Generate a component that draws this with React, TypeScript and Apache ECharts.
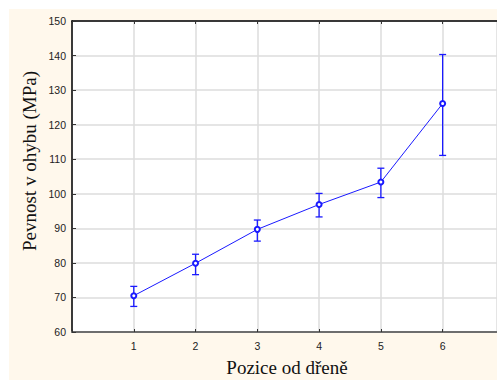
import React, { useEffect, useRef } from "react";
import * as echarts from "echarts";

const categories = [1, 2, 3, 4, 5, 6];
const means = [70.5, 79.9, 89.7, 96.9, 103.4, 126.1];
const upper = [73.2, 82.5, 92.4, 100.1, 107.4, 140.3];
const lower = [67.4, 76.6, 86.3, 93.3, 98.9, 111.1];
const yTicks = [60, 70, 80, 90, 100, 110, 120, 130, 140, 150];
const xTitle = "Pozice od dřeně";
const yTitle = "Pevnost v ohybu (MPa)";

const BLUE = "#1a1aff";
const SERIF = "'Liberation Serif', 'Times New Roman', serif";
const SANS = "'Liberation Sans', Arial, sans-serif";

export default function App() {
  const ref = useRef<HTMLDivElement>(null);
  useEffect(() => {
    const chart = echarts.init(ref.current!, null, { renderer: "svg" });
    const lineData = categories.map((c, i) => [c, means[i]]);
    const errData = categories.map((c, i) => [c, lower[i], upper[i]]);
    chart.setOption({
      animation: false,
      backgroundColor: "#ffffff",
      graphic: [
        {
          type: "rect",
          z: -10,
          silent: true,
          shape: { x: 9, y: 9, width: 497, height: 380 },
          style: { fill: "#fff8ec" },
        },
        {
          type: "text",
          x: 287,
          y: 367,
          silent: true,
          style: {
            text: xTitle,
            fontFamily: SERIF,
            fontSize: 19,
            fill: "#111",
            align: "center",
            verticalAlign: "middle",
          },
        },
        {
          type: "text",
          x: 29,
          y: 161,
          rotation: Math.PI / 2,
          silent: true,
          style: {
            text: yTitle,
            fontFamily: SERIF,
            fontSize: 19,
            fill: "#111",
            align: "center",
            verticalAlign: "middle",
          },
        },
      ],
      grid: {
        left: 72,
        top: 21,
        right: 0,
        bottom: 48,
        show: true,
        backgroundColor: "#ffffff",
        borderWidth: 0,
      },
      xAxis: [
        {
          type: "value",
          min: 0,
          max: 6.88,
          interval: 1,
          position: "bottom",
          axisLine: { show: true, lineStyle: { color: "#6e6e6e", width: 2 } },
          axisTick: { show: true, inside: true, length: 3, lineStyle: { color: "#333" } },
          axisLabel: {
            fontFamily: SANS,
            fontSize: 10.5,
            color: "#222",
            margin: 8,
            showMaxLabel: false,
            formatter: (v: number) => (v >= 1 && v <= 6 ? String(v) : ""),
          },
          splitLine: { show: true, lineStyle: { color: "#dcdcdc", width: 1.5 } },
        },
        {
          type: "value",
          min: 0,
          max: 6.88,
          interval: 1,
          position: "top",
          axisLine: { show: true, lineStyle: { color: "#000", width: 1.5 } },
          axisTick: { show: true, inside: true, length: 3, lineStyle: { color: "#333" } },
          axisLabel: { show: false },
          splitLine: { show: false },
        },
      ],
      yAxis: {
        type: "value",
        min: 60,
        max: 150,
        interval: 10,
        axisLine: { show: true, lineStyle: { color: "#000", width: 1.5 } },
        axisTick: { show: true, inside: true, length: 4, lineStyle: { color: "#333" } },
        axisLabel: {
          fontFamily: SANS,
          fontSize: 10.5,
          color: "#222",
          margin: 6,
          formatter: (v: number) => (yTicks.includes(v) ? String(v) : ""),
        },
        splitLine: { show: true, lineStyle: { color: "#dcdcdc", width: 1.5 } },
      },
      series: [
        {
          type: "custom",
          xAxisIndex: 0,
          data: errData,
          z: 3,
          renderItem: (params: any, api: any) => {
            const x = api.value(0);
            const lo = api.coord([x, api.value(1)]);
            const hi = api.coord([x, api.value(2)]);
            const hw = 3.5;
            const style = { stroke: BLUE, lineWidth: 1.3 };
            return {
              type: "group",
              children: [
                { type: "line", shape: { x1: lo[0], y1: lo[1], x2: hi[0], y2: hi[1] }, style },
                { type: "line", shape: { x1: lo[0] - hw, y1: lo[1], x2: lo[0] + hw, y2: lo[1] }, style },
                { type: "line", shape: { x1: hi[0] - hw, y1: hi[1], x2: hi[0] + hw, y2: hi[1] }, style },
              ],
            };
          },
        },
        {
          type: "line",
          xAxisIndex: 0,
          data: lineData,
          z: 4,
          symbol: "emptyCircle",
          symbolSize: 5,
          lineStyle: { color: BLUE, width: 1 },
          itemStyle: { color: BLUE, borderColor: BLUE, borderWidth: 2 },
        },
      ],
    });
    return () => chart.dispose();
  }, []);
  return (
    <div
      ref={ref}
      style={{ position: "absolute", left: 0, top: 0, width: 497, height: 380 }}
    />
  );
}
